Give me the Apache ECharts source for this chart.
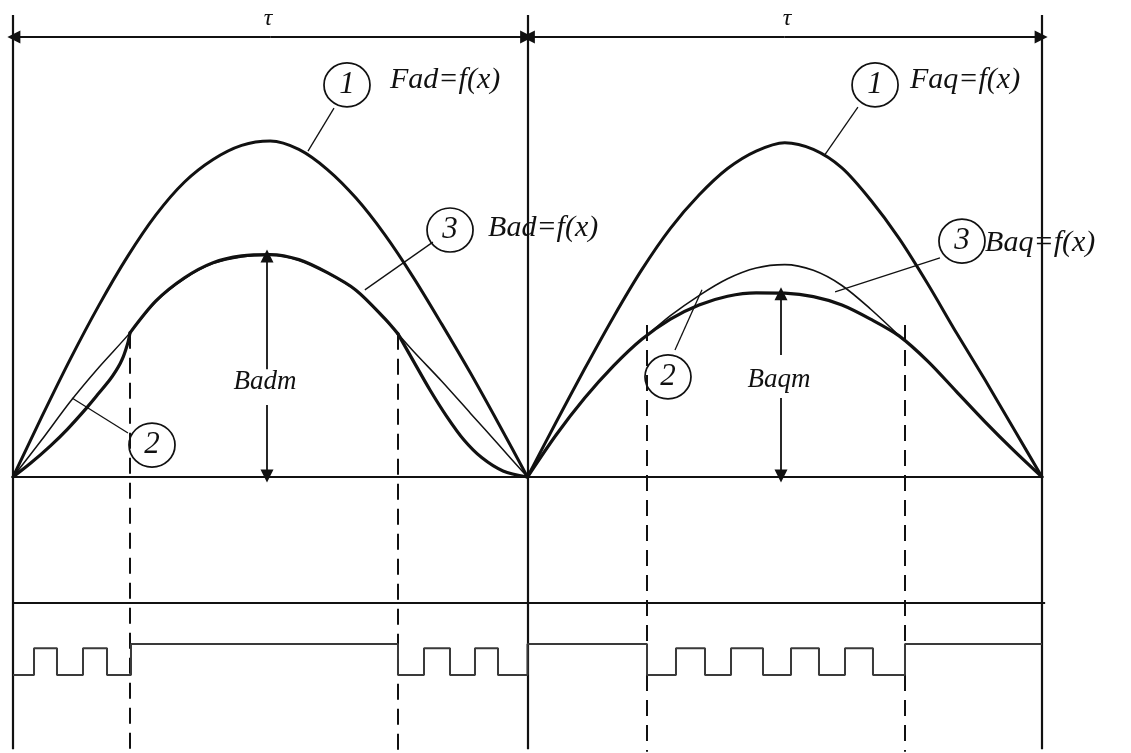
<!DOCTYPE html>
<html>
<head>
<meta charset="utf-8">
<script src="https://cdn.jsdelivr.net/npm/echarts@6/dist/echarts.min.js"></script>
<style>
  html, body { margin: 0; padding: 0; background: #ffffff; }
  #chart { width: 1131px; height: 753px; }
</style>
</head>
<body>
<div id="chart"></div>
<script>
// x: electrical angle in degrees (one pole pitch tau = 180), y: relative amplitude (Fad peak = 1)

// Curve 1: armature MMF, d-axis and q-axis
const fadCurve = [[0,0],[10,0.178],[20,0.35],[30,0.51],[40,0.655],[50,0.78],[60,0.878],[70,0.945],[80,0.987],[90,1.0],[100,0.975],[110,0.915],[120,0.83],[130,0.722],[140,0.595],[150,0.455],[160,0.31],[170,0.157],[180,0]];
const faqCurve = [[180,0],[190,0.163],[200,0.322],[210,0.475],[220,0.617],[230,0.74],[240,0.839],[250,0.918],[260,0.97],[270,0.995],[280,0.975],[290,0.92],[300,0.825],[310,0.71],[320,0.575],[330,0.43],[340,0.29],[350,0.145],[360,0]];

// d-axis flux density: smooth curve (thin) and actual distribution (thick, three pieces)
const badThin = [[0,0],[10,0.11],[20,0.224],[30,0.326],[40,0.42],[50,0.522],[60,0.59],[70,0.635],[80,0.655],[90,0.66],[100,0.645],[110,0.607],[120,0.555],[130,0.47],[140,0.375],[150,0.285],[160,0.19],[170,0.095],[180,0]];
const badThickRise = [[0,0],[6,0.04],[13,0.092],[19,0.142],[26,0.208],[30,0.249],[34,0.291],[36,0.316],[37.5,0.338],[38.6,0.358],[39.5,0.38],[40.3,0.403],[40.93,0.429]];
const badThickTop = [[40.93,0.429],[50,0.524],[60,0.593],[70,0.638],[80,0.658],[90,0.662],[100,0.647],[110,0.608],[120,0.556],[130,0.472],[134.69,0.426]];
const badThickFall = [[134.69,0.426],[140.29,0.342],[145.89,0.259],[151.84,0.179],[157.78,0.11],[164.08,0.057],[171.43,0.018],[180,0]];

// q-axis flux density: thick actual distribution, thin curve between the pole-shoe edges
const baqThick = [[180,0],[190,0.125],[200,0.235],[210,0.33],[220,0.41],[230,0.47],[240,0.512],[250,0.538],[260,0.548],[270,0.547],[280,0.537],[290,0.512],[300,0.47],[310,0.42],[320,0.345],[330,0.255],[340,0.165],[350,0.08],[360,0]];
const baqThin = [[221.81,0.421],[230,0.48],[240,0.54],[250,0.59],[260,0.622],[270,0.632],[280,0.615],[290,0.57],[300,0.5],[312.07,0.404]];

// switching signal below the curves: [angle where the level changes, new level]
const pulseLow = -0.589, pulseHigh = -0.51, flatHigh = -0.497;
const switchWave = [[0,pulseLow],[7.35,pulseHigh],[15.39,pulseLow],[24.49,pulseHigh],[32.89,pulseLow],[41.28,flatHigh],[134.69,pulseLow],[143.79,pulseHigh],[152.89,pulseLow],[161.63,pulseHigh],[169.68,pulseLow],[180,flatHigh],[221.81,pulseLow],[231.95,pulseHigh],[242.1,pulseLow],[251.2,pulseHigh],[262.39,pulseLow],[272.19,pulseHigh],[281.98,pulseLow],[291.08,pulseHigh],[300.87,pulseLow],[312.07,flatHigh],[360,flatHigh]];

// frame: pole boundaries, zero line, separator of the signal strip
const frameLines = [
  [[0,1.375],[0,-0.81]],
  [[180,1.375],[180,-0.81]],
  [[360,1.375],[360,-0.81]],
  [[0,0],[360,0]],
  [[0,-0.375],[361.1,-0.375]]
];
// pole-shoe edges
const edgeLines = [
  [[41,0.429],[41,-0.818]],
  [[134.69,0.426],[134.69,-0.818]],
  [[221.81,0.452],[221.81,-0.818]],
  [[312.07,0.452],[312.07,-0.818]]
];
// dimension arrows, drawn from the inner point to the arrow tip
const arrowLines = [
  [[90,1.3095],[0.3,1.3095]],
  [[90,1.3095],[179.7,1.3095]],
  [[270,1.3095],[180.3,1.3095]],
  [[270,1.3095],[359.7,1.3095]],
  [[88.86,0.321],[88.86,0.658]],
  [[88.86,0.214],[88.86,0.003]],
  [[268.69,0.363],[268.69,0.545]],
  [[268.69,0.235],[268.69,0.003]]
];
// leader lines from the numbered circles to their curves
const leaderLines = [
  [[112.3,1.098],[103.2,0.97]],
  [[295.6,1.101],[283.7,0.955]],
  [[146.9,0.699],[123.1,0.557]],
  [[324.3,0.652],[287.6,0.551]],
  [[40.23,0.131],[20.64,0.235]],
  [[231.6,0.378],[241.05,0.557]]
];

const circleMarks = [
  { name: '1', value: [116.85, 1.167] },
  { name: '1', value: [301.6, 1.167] },
  { name: '3', value: [152.9, 0.735] },
  { name: '3', value: [332.0, 0.702] },
  { name: '2', value: [48.63, 0.095] },
  { name: '2', value: [229.15, 0.298] }
];
// labels anchored at their left edge
const sideLabels = [
  { name: 'Fad=f(x)', value: [131.9, 1.1815] },
  { name: 'Faq=f(x)', value: [313.8, 1.1815] },
  { name: 'Bad=f(x)', value: [166.2, 0.741] },
  { name: 'Baq=f(x)', value: [340.1, 0.696] }
];
// labels centred on their point
const centerLabels = [
  { name: 'Badm', value: [88.16, 0.283], size: 27 },
  { name: 'Baqm', value: [267.99, 0.289], size: 27 },
  { name: 'τ', value: [89.2, 1.363], size: 24 },
  { name: 'τ', value: [270.8, 1.363], size: 24 }
];

const ink = '#111111';
const serif = 'Liberation Serif';

function segs(list) { return list.map(c => ({ coords: c })); }
function curve(data, width, z) {
  return {
    type: 'line', data: data, smooth: 0.3, showSymbol: false,
    symbol: 'none', silent: true, z: z,
    lineStyle: { color: ink, width: width, cap: 'round', join: 'round' }
  };
}

const chart = echarts.init(document.getElementById('chart'), null, { renderer: 'canvas' });
chart.setOption({
  backgroundColor: '#ffffff',
  animation: false,
  grid: { left: 0, right: 0, top: 0, bottom: 0 },
  xAxis: { type: 'value', min: -4.548, max: 391.14, show: false },
  yAxis: { type: 'value', min: -0.8214, max: 1.4196, show: false },
  series: [
    {
      type: 'lines', coordinateSystem: 'cartesian2d', silent: true, z: 2,
      lineStyle: { color: ink, width: 2.2, opacity: 1 },
      data: segs(frameLines)
    },
    {
      type: 'lines', coordinateSystem: 'cartesian2d', silent: true, z: 2,
      lineStyle: { color: ink, width: 2, type: [16, 9], opacity: 1 },
      data: segs(edgeLines)
    },
    {
      type: 'lines', coordinateSystem: 'cartesian2d', silent: true, z: 3,
      symbol: ['none', 'triangle'], symbolSize: [9, 13],
      lineStyle: { color: ink, width: 1.8, opacity: 1 },
      data: segs(arrowLines)
    },
    {
      type: 'lines', coordinateSystem: 'cartesian2d', silent: true, z: 3,
      lineStyle: { color: ink, width: 1.3, opacity: 1 },
      data: segs(leaderLines)
    },
    curve(fadCurve, 3, 4),
    curve(faqCurve, 3, 4),
    curve(badThin, 1.5, 4),
    curve(badThickRise, 3.2, 5),
    curve(badThickTop, 3.2, 5),
    curve(badThickFall, 3.2, 5),
    curve(baqThin, 1.6, 4),
    curve(baqThick, 3.2, 5),
    {
      type: 'line', data: switchWave, step: 'end', showSymbol: false, symbol: 'none', silent: true, z: 4,
      lineStyle: { color: '#3a3a3a', width: 2 }
    },
    {
      type: 'scatter', data: circleMarks, symbol: 'circle', symbolSize: [46, 44], silent: true, z: 6,
      itemStyle: { color: 'rgba(255,255,255,0)', borderColor: ink, borderWidth: 1.7, opacity: 1 },
      label: {
        show: true, position: 'inside', formatter: p => p.name,
        fontFamily: serif, fontStyle: 'italic', fontSize: 31, color: ink
      }
    },
    {
      type: 'scatter', data: sideLabels, symbolSize: 0, silent: true, z: 6,
      itemStyle: { opacity: 1 },
      label: {
        show: true, position: 'right', distance: 0, formatter: p => p.name,
        fontFamily: serif, fontStyle: 'italic', fontSize: 30, color: ink
      }
    },
    {
      type: 'scatter', symbolSize: 0, silent: true, z: 6,
      itemStyle: { opacity: 1 },
      data: centerLabels.map(d => ({
        name: d.name, value: d.value,
        label: { fontSize: d.size }
      })),
      label: {
        show: true, position: 'inside', formatter: p => p.name,
        fontFamily: serif, fontStyle: 'italic', color: ink
      }
    }
  ]
});
</script>
</body>
</html>
